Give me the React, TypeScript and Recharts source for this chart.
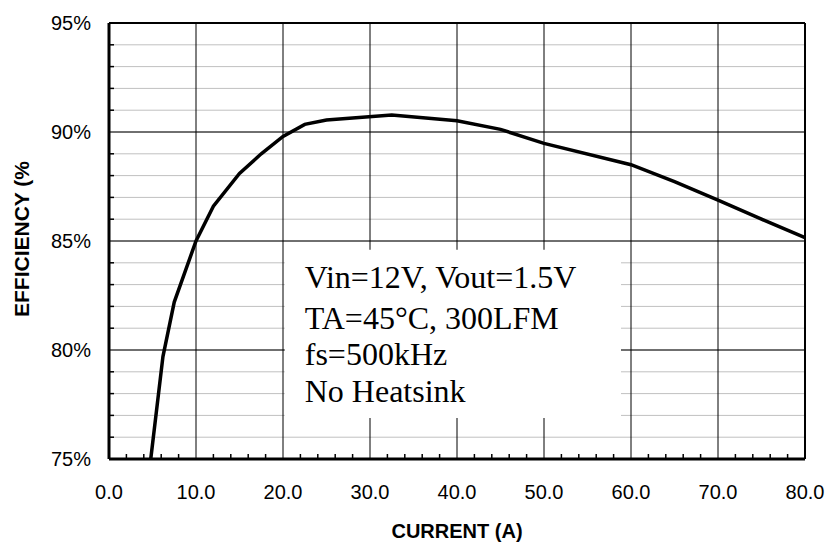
import React from 'react';
import {
  LineChart,
  Line,
  XAxis,
  YAxis,
  CartesianGrid,
  ReferenceLine,
  ReferenceArea,
} from 'recharts';

// load current (A) vs efficiency (%)
const CURRENT = [4.8, 6.2, 7.5, 10, 12, 15, 17.5, 20, 22.5, 25, 32.5, 40, 45, 50, 60, 65, 70, 75, 80];
const EFFICIENCY = [75.0, 79.7, 82.2, 85.0, 86.6, 88.1, 89.0, 89.8, 90.35, 90.55, 90.78, 90.52, 90.12, 89.48, 88.5, 87.72, 86.88, 86.0, 85.15];

const X_MAJOR = [0, 10, 20, 30, 40, 50, 60, 70, 80];
const X_MINOR = [0, 2, 4, 6, 8, 10, 12, 14, 16, 18, 20, 22, 24, 26, 28, 30, 32, 34, 36, 38, 40, 42, 44, 46, 48, 50, 52, 54, 56, 58, 60, 62, 64, 66, 68, 70, 72, 74, 76, 78, 80];
const Y_MAJOR = [75, 80, 85, 90, 95];
const Y_MINOR = [75, 76, 77, 78, 79, 80, 81, 82, 83, 84, 85, 86, 87, 88, 89, 90, 91, 92, 93, 94, 95];

const NOTE_LINES = ['Vin=12V, Vout=1.5V', 'TA=45°C, 300LFM', 'fs=500kHz', 'No Heatsink'];

const data = CURRENT.map((c, i) => ({ current: c, eff: EFFICIENCY[i] }));

const PLOT_LEFT = 109;
const PLOT_BOTTOM = 459;
const SANS = '"Liberation Sans", Arial, sans-serif';
const SERIF = '"Liberation Serif", "Times New Roman", serif';

function XTick(props: any) {
  const { x, payload } = props;
  const v = payload.value;
  const major = X_MAJOR.includes(v);
  return (
    <g>
      {major ? (
        <text x={x} y={499} textAnchor="middle" fontSize={20} fontFamily={SANS} fill="#000">
          {v.toFixed(1)}
        </text>
      ) : (
        <line x1={x} x2={x} y1={PLOT_BOTTOM} y2={PLOT_BOTTOM - 5} stroke="#000" strokeWidth={1.5} />
      )}
    </g>
  );
}

function YTick(props: any) {
  const { y, payload } = props;
  const v = payload.value;
  const major = Y_MAJOR.includes(v);
  return (
    <g>
      {major ? (
        <text x={91} y={y} dy={7} textAnchor="end" fontSize={20} fontFamily={SANS} fill="#000">
          {v}%
        </text>
      ) : (
        <line x1={PLOT_LEFT} x2={PLOT_LEFT + 5} y1={y} y2={y} stroke="#000" strokeWidth={1.5} />
      )}
    </g>
  );
}

function XTitle() {
  return (
    <text x={457} y={538} textAnchor="middle" fontSize={20} fontWeight="bold" fontFamily={SANS} fill="#000">
      CURRENT (A)
    </text>
  );
}

function YTitle() {
  return (
    <text
      x={21}
      y={239}
      transform="rotate(-90 21 239)"
      textAnchor="middle"
      dominantBaseline="central"
      fontSize={21}
      fontWeight="bold"
      fontFamily={SANS}
      fill="#000"
    >
      EFFICIENCY (%
    </text>
  );
}

function NoteText(props: any) {
  const vb = props.viewBox || { x: 285, y: 250 };
  const offsets = [38, 79, 115, 152];
  return (
    <g>
      {NOTE_LINES.map((t, i) => (
        <text key={t} x={vb.x + 20} y={vb.y + offsets[i]} fontSize={32} fontFamily={SERIF} fill="#000">
          {t}
        </text>
      ))}
    </g>
  );
}

export default function App() {
  return (
    <div style={{ position: 'absolute', left: 0, top: 0, background: '#fff' }}>
      <LineChart width={830} height={544} data={data} margin={{ top: 23, right: 25, bottom: 0, left: 0 }}>
        <CartesianGrid vertical={false} stroke="#c0c0c0" strokeWidth={1} />
        <XAxis
          type="number"
          dataKey="current"
          domain={[0, 80]}
          ticks={X_MINOR}
          interval={0}
          height={85}
          tickLine={false}
          tick={<XTick />}
          axisLine={{ stroke: '#000', strokeWidth: 3 }}
          label={<XTitle />}
        />
        <YAxis
          type="number"
          domain={[75, 95]}
          ticks={Y_MINOR}
          interval={0}
          width={109}
          tickLine={false}
          tick={<YTick />}
          axisLine={{ stroke: '#000', strokeWidth: 3 }}
          label={<YTitle />}
        />
        {X_MAJOR.slice(1, -1).map((v) => (
          <ReferenceLine key={`x${v}`} x={v} stroke="#000" strokeWidth={1} />
        ))}
        {Y_MAJOR.slice(1, -1).map((v) => (
          <ReferenceLine key={`y${v}`} y={v} stroke="#000" strokeWidth={1} />
        ))}
        <ReferenceLine y={95} stroke="#000" strokeWidth={2} />
        <ReferenceLine x={80} stroke="#000" strokeWidth={2} />
        <ReferenceArea
          x1={20.2}
          x2={58.85}
          y1={76.88}
          y2={84.6}
          fill="#fff"
          fillOpacity={1}
          stroke="none"
          zIndex={450}
          label={<NoteText />}
        />
        <Line
          type="linear"
          dataKey="eff"
          stroke="#000"
          strokeWidth={3.5}
          dot={false}
          isAnimationActive={false}
        />
      </LineChart>
    </div>
  );
}
